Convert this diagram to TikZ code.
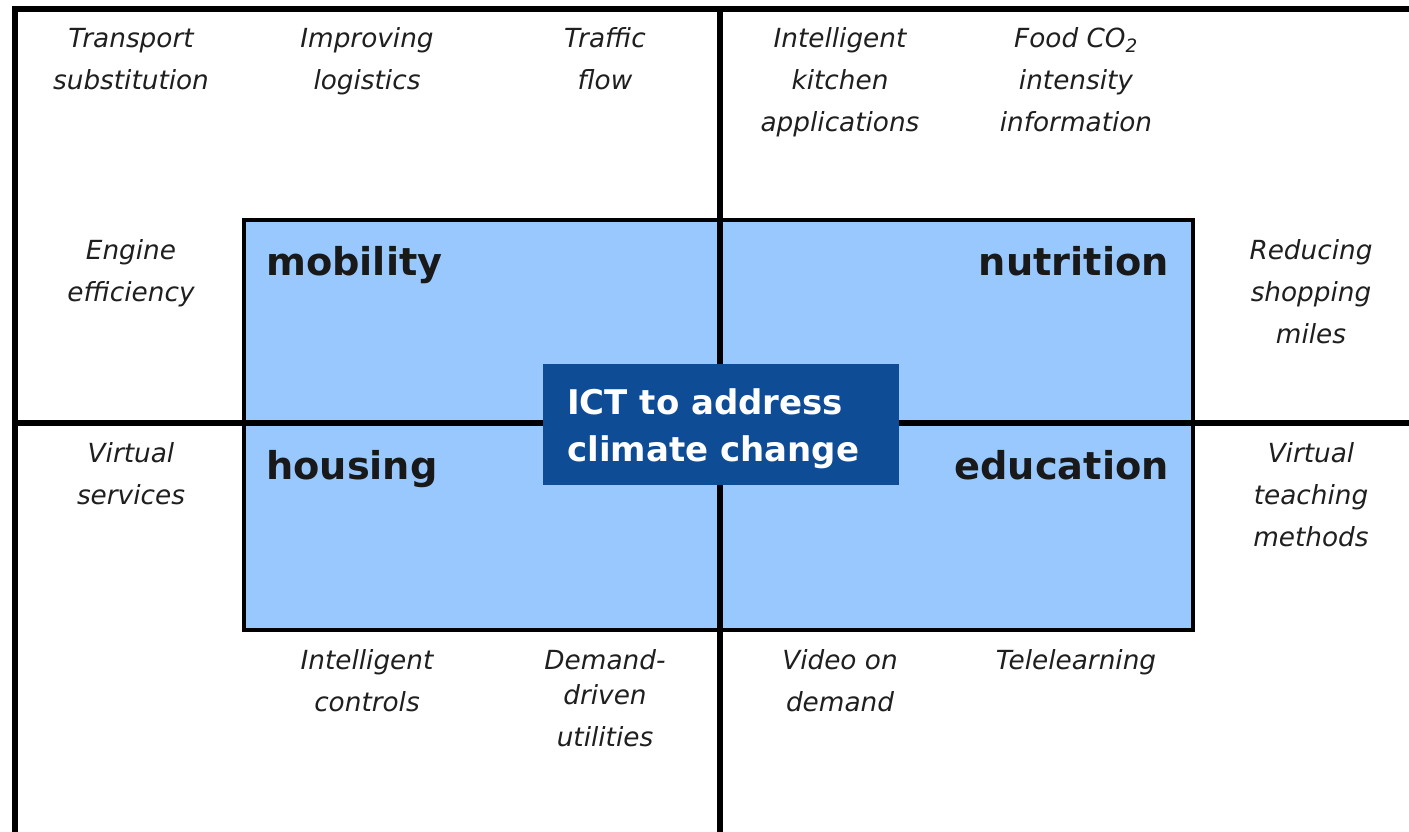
\documentclass[tikz,border=0pt]{standalone}
\usepackage{fontspec}
\setmainfont{DejaVu Sans}
\begin{document}
\begin{tikzpicture}[x=1pt,y=-1pt,
  lbl/.style={align=center,inner sep=0pt,anchor=north,text=black!88,font=\fontsize{26.3}{42}\selectfont\itshape},
  big/.style={inner sep=0pt,text=black!90,font=\fontsize{38.3}{44}\selectfont\bfseries},
  frame/.style={line width=6.5pt}]
\definecolor{lightblue}{HTML}{99C8FF}
\definecolor{darkblue}{HTML}{0F4C96}
\useasboundingbox (0,0) rectangle (1409,831);
\fill[white] (0,0) rectangle (1409,831);
% frame lines
\coordinate (tl) at (15,9);
\coordinate (tr) at (1412,9);
\coordinate (bl) at (15,834);
\coordinate (tm) at (720,9);
\coordinate (bm) at (720,834);
\coordinate (ml) at (15,423);
\coordinate (mr) at (1412,423);
\draw[frame] (bl) -- (tl) -- (tr);
\draw[frame] (tm) -- (bm);
\draw[frame] (ml) -- (mr);
% blue area
\node[draw=black,line width=3.5pt,fill=lightblue,minimum width=949pt,minimum height=410pt,inner sep=0pt] (area) at (718.5,425) {};
\draw[frame] (area.north -| tm) -- (area.south -| tm);
\draw[frame] (area.west |- ml) -- (area.east |- ml);
\node[fill=darkblue,minimum width=356pt,minimum height=121pt,inner sep=0pt] (ict) at (721,424.5) {};
\node[anchor=north west,align=left,inner sep=0pt,text=white,font=\fontsize{34}{47}\selectfont\bfseries] (ictt) at (567,381.5) {\strut ICT to address\\\strut climate change};
% quadrant labels
\node[big,anchor=base west] (mob) at (266,275) {mobility};
\node[big,anchor=base east] (nut) at (1169,275) {nutrition};
\node[big,anchor=base west] (hou) at (266,479) {housing};
\node[big,anchor=base east] (edu) at (1169,479) {education};
% outer labels
\node[lbl] (t1) at (131,18) {\strut Transport\\\strut substitution};
\node[lbl] (t2) at (367,18) {\strut Improving\\\strut logistics};
\node[lbl] (t3) at (605,18) {\strut Traffic\\\strut flow};
\node[lbl] (t4) at (840,18) {\strut Intelligent\\\strut kitchen\\\strut applications};
\node[lbl] (t5) at (1076,18) {\strut Food CO\textsubscript{2}\\\strut intensity\\\strut information};
\node[lbl] (t6) at (131,229.5) {\strut Engine\\\strut efficiency};
\node[lbl] (t7) at (1311,229.5) {\strut Reducing\\\strut shopping\\\strut miles};
\node[lbl] (t8) at (131,433) {\strut Virtual\\\strut services};
\node[lbl] (t9) at (1311,433) {\strut Virtual\\\strut teaching\\\strut methods};
\node[lbl] (t10) at (367,640) {\strut Intelligent\\\strut controls};
\node[lbl] (t11) at (605,640) {\strut Demand-\\[-7pt]\strut driven\\\strut utilities};
\node[lbl] (t12) at (840,640) {\strut Video on\\\strut demand};
\node[lbl] (t13) at (1076,640) {\strut Telelearning};
\end{tikzpicture}
\end{document}
